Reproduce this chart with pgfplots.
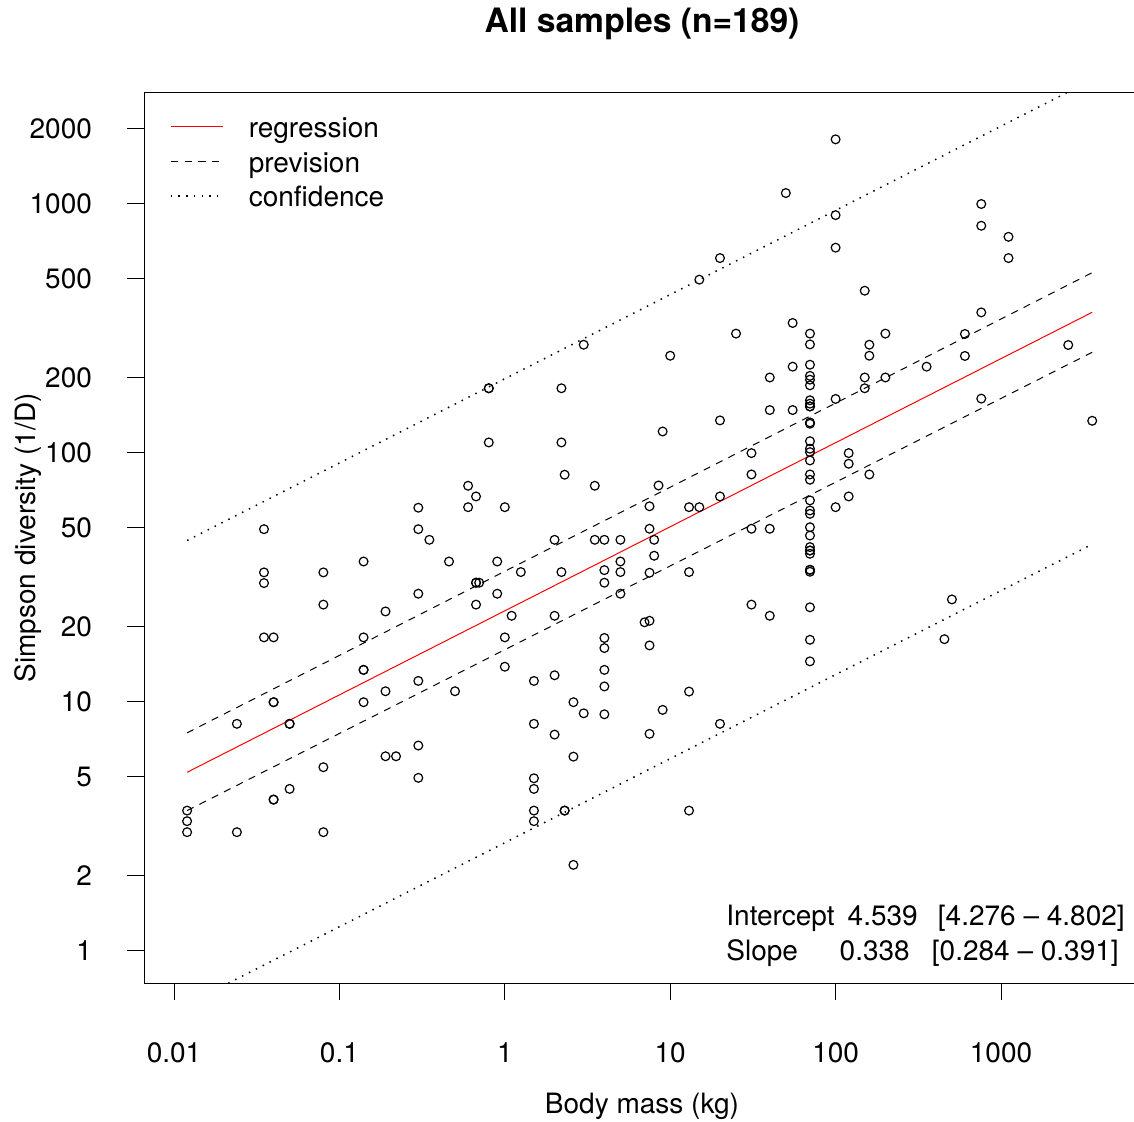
\documentclass[border=0pt]{standalone}
\usepackage{fontspec}
\setmainfont{TeX Gyre Heros}
\usepackage{pgfplots}
\usepackage{pgfplotstable}
\pgfplotsset{compat=1.18}

% body mass (kg) vs Simpson diversity, 189 samples
\pgfplotstableread{
x y
0.3 60.0
0.035 49.2
0.3 49.2
0.14 36.5
0.035 33.0
0.08 33.0
0.035 29.9
0.3 27.1
0.08 24.5
0.19 23.0
0.035 18.1
0.04 18.1
0.14 18.1
0.14 13.4
0.14 13.4
0.04 9.94
0.04 9.94
0.19 11.0
0.14 9.94
0.3 12.1
0.024 8.14
0.05 8.14
0.05 8.14
0.3 6.66
0.19 6.03
0.22 6.03
0.08 5.45
0.3 4.94
0.05 4.46
0.04 4.04
0.04 4.04
0.012 3.65
0.012 3.31
0.012 2.99
0.024 2.99
0.08 2.99
3 270.7
10 244.5
0.8 181
0.8 181
2.2 181
0.8 109.7
2.2 109.7
9 121.4
2.3 81.4
0.6 73.5
3.5 73.5
8.5 73.7
0.67 66.6
0.6 60.3
1.0 60.3
7.5 60.8
0.35 44.6
7.5 49.4
2 44.6
3.5 44.6
4 44.6
5 44.6
8 44.6
8 38.5
0.46 36.5
0.9 36.5
5 36.5
1.25 33.1
2.2 33.1
4 33.7
5 33.1
7.5 32.9
0.67 30.0
0.67 30.0
0.7 30.0
4 30.0
0.9 27.1
5 27.1
0.67 24.5
1.1 22.1
2 22.1
7 20.8
7.5 21.1
1.0 18.1
4 18.0
4 16.4
7.5 16.8
1.0 13.8
0.5 11.0
1.5 12.1
2 12.75
4 13.4
4 11.5
2.6 9.94
3 8.97
4 8.89
9 9.26
7.5 7.42
1.5 8.14
2 7.37
2.6 6.01
1.5 4.92
1.5 4.46
1.5 3.65
2.3 3.65
2.3 3.65
1.5 3.31
2.6 2.21
100 1807
50 1100
100 897
100 664
20 603
15 494
150 446
55 331
25 300
70 300
200 300
70 271.5
160 270.7
160 244.5
70 225
55 221
40 200
70 203
70 196
70 186
150 200
200 200
150 181
100 164
70 162
70 157
70 153
70 153
40 148
55 148
20 134.5
70 132
70 130.4
70 111
70 103.5
70 100.3
70 92.9
31 99.4
120 99.4
120 90.1
160 81.6
31 81.6
70 81.6
70 77.7
20 66.6
120 66.6
13 60.3
15 60.3
100 60.3
70 64.2
70 58.5
70 56.7
31 49.4
40 49.4
70 50.1
70 46.4
70 41.7
70 40.4
70 40.4
70 39.2
70 33.8
70 33.8
70 33.2
13 33.1
31 24.5
40 22.1
70 23.9
70 17.7
70 14.5
13 10.97
20 8.14
13 3.65
760 994
760 813
1110 734
1110 603
760 365
605 299
605 244
355 221
2550 270
760 164.5
3560 134
505 25.7
455 17.8
}\samples

\begin{document}
\begin{tikzpicture}[font=\fontsize{14}{17}\selectfont]
\begin{axis}[
    name=ax, at={(0,0)}, anchor=south west,
    scale only axis, width=497.7pt, height=445.3pt,
    xmode=log, ymode=log,
    xmin=0.006613, xmax=6897,
    ymin=0.7396, ymax=2782,
    axis line style={line width=0.65pt},
    xtick={0.01,0.1,1,10,100,1000},
    xticklabels={0.01,0.1,1,10,100,1000},
    ytick={1,2,5,10,20,50,100,200,500,1000,2000},
    yticklabels={1,2,5,10,20,50,100,200,500,1000,2000},
    xminorticks=false, yminorticks=false,
    xtick pos=bottom, ytick pos=left,
    tick align=outside, major tick length=8.5pt,
    every tick/.style={black, line width=0.5pt},
    xticklabel style={anchor=base, inner sep=0pt, yshift=-31.35pt},
    yticklabel style={anchor=east, inner sep=0pt, xshift=-17.5pt},
    legend image code/.code={\draw[#1] (0pt,0pt) -- (26.35pt,0pt);},
    legend style={draw=none, fill=none, at={(axis description cs:0,1)},
        anchor=north west, xshift=12.85pt, yshift=-8.525pt,
        inner sep=0pt, outer sep=0pt, row sep=0pt, column sep=12.3pt,
        nodes={inner sep=0pt, text depth=}, cells={anchor=west}},
]

% fitted line and bands
\addplot[red, line width=0.5pt] coordinates {(0.012,5.2) (3560,365.4)};
\addlegendentry{\rule[-3.275pt]{0pt}{17.25pt}regression}

\addplot[black, line width=0.5pt, dash pattern=on 3.6pt off 3.3pt] coordinates {(0.012,7.49) (3560,527)};
\addlegendentry{\rule[-3.275pt]{0pt}{17.25pt}prevision}
\addplot[black, line width=0.5pt, dash pattern=on 3.6pt off 3.3pt, forget plot] coordinates {(0.012,3.65) (3560,252.5)};

\addplot[black, line width=0.75pt, dash pattern=on 0.75pt off 3.1pt] coordinates {(0.012,44.3) (3560,3135)};
\addlegendentry{\rule[-3.275pt]{0pt}{17.25pt}confidence}
\addplot[black, line width=0.75pt, dash pattern=on 0.75pt off 3.1pt, forget plot] coordinates {(0.012,0.61) (3560,42.8)};

% samples
\addplot[only marks, mark=o, mark size=2.2pt, mark options={black, line width=0.6pt}, forget plot] table[x=x, y=y] {\samples};

\end{axis}

% title and axis labels
\node[anchor=base, inner sep=0pt, font=\bfseries\fontsize{16.8}{20}\selectfont] at (248.85pt,475.15pt) {All samples (n=189)};
\node[anchor=base, inner sep=0pt] at (248.85pt,-65.35pt) {Body mass (kg)};
\node[anchor=base, inner sep=0pt, rotate=90] at (-54.4pt,222.65pt) {Simpson diversity (1/D)};

% coefficient box, bottom right
\node[anchor=base west, inner sep=0pt] at (290.85pt,28.65pt) {Intercept};
\node[anchor=base west, inner sep=0pt] at (351.5pt,28.65pt) {4.539};
\node[anchor=base west, inner sep=0pt] at (396.6pt,28.65pt) {[4.276 – 4.802]};
\node[anchor=base west, inner sep=0pt] at (290.85pt,11.15pt) {Slope};
\node[anchor=base west, inner sep=0pt] at (347.5pt,11.15pt) {0.338};
\node[anchor=base west, inner sep=0pt] at (393.6pt,11.15pt) {[0.284 – 0.391]};

\pgfresetboundingbox
\path (-72.15pt,-69.35pt) rectangle (494.85pt,491.65pt);
\end{tikzpicture}
\end{document}
